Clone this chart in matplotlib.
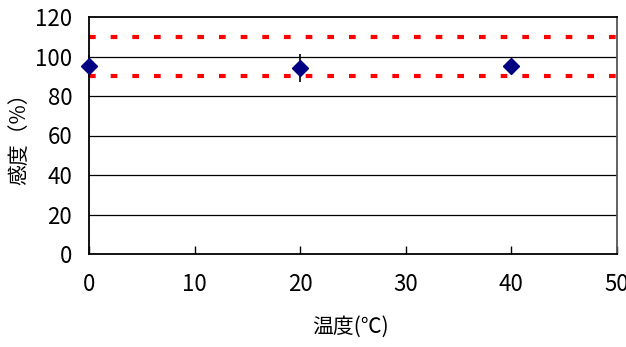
import matplotlib
matplotlib.use("Agg")
import matplotlib.pyplot as plt

plt.rcParams['font.family'] = ['Noto Sans CJK JP', 'DejaVu Sans']

temps = [0, 20, 40]
sensitivity = [95.2, 94.2, 95.2]
errors = [5.5, 7.0, 0.0]
upper_limit = 110
lower_limit = 90
x_ticks = [0, 10, 20, 30, 40, 50]
y_ticks = [0, 20, 40, 60, 80, 100, 120]
x_label = "温度(℃)"
y_label = "感度（%）"

W, H = 626, 347
fig = plt.figure(figsize=(W/100, H/100), dpi=100)
ax = fig.add_axes([89/W, 1 - 254/H, (617-89)/W, (254-17)/H])

ax.set_xlim(0, 50)
ax.set_ylim(0, 120)

for y in y_ticks[1:-1]:
    ax.axhline(y, color='black', linewidth=0.9, zorder=1)

for lim in (upper_limit, lower_limit):
    ax.plot([0, 50.9], [lim, lim], color='#ff0000', linewidth=3,
            dashes=(1.6, 3.6), clip_on=False, zorder=2,
            dash_capstyle='butt')

ax.errorbar(temps, sensitivity, yerr=errors, fmt='D', color='#000080',
            ecolor='black', elinewidth=1.2, capsize=0, markersize=8.5,
            clip_on=False, zorder=4)

ax.set_xticks(x_ticks)
ax.set_yticks(y_ticks)
ax.tick_params(axis='x', direction='in', length=6, width=1, pad=14, labelsize=16)
ax.tick_params(axis='y', length=0, pad=12, labelsize=16)

for s in ax.spines.values():
    s.set_color('black')
    s.set_linewidth(1.3)
ax.spines['right'].set_color('#555555')

fig.text(350/W, 1 - 327/H, x_label, fontsize=15, ha='center', va='center')
fig.text(19/W, 1 - 134/H, y_label, fontsize=15, ha='center', va='center',
         rotation=90)

fig.savefig("out.png", dpi=100)
